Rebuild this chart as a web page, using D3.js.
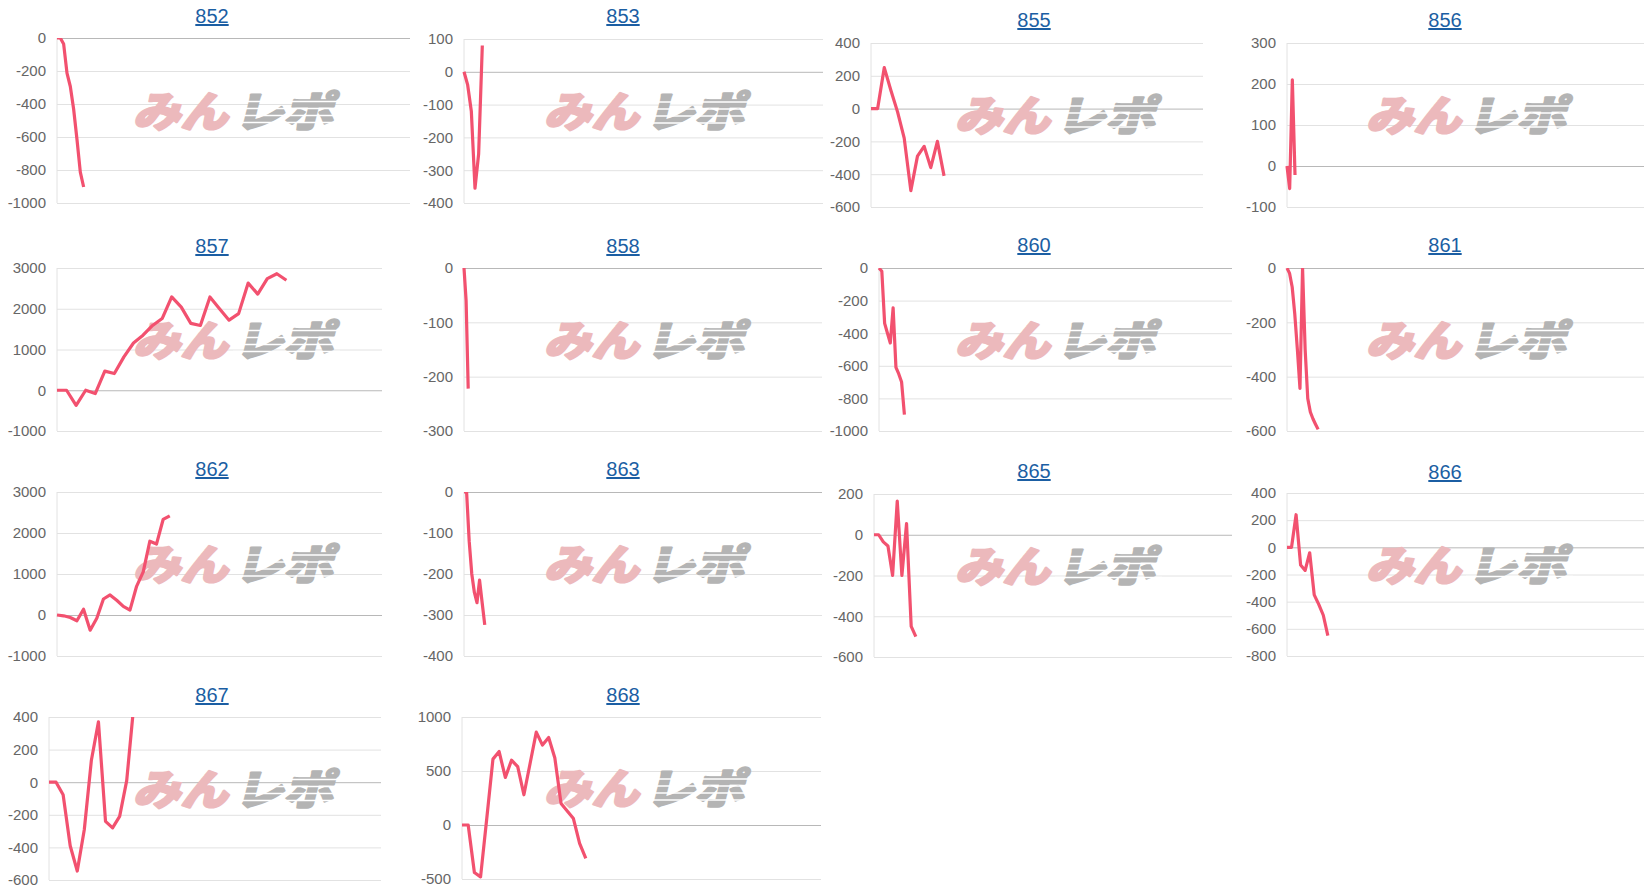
<!DOCTYPE html>
<html>
<head>
<meta charset="utf-8">
<script src="https://cdn.jsdelivr.net/npm/d3@7"></script>
<style>
  body { margin: 0; background: #fff; }
  svg { display: block; }
  .tick text { font-family: "Liberation Sans", Arial, sans-serif; font-size: 15px; fill: #666; }
  .title { font-family: "Liberation Sans", Arial, sans-serif; font-size: 20px; fill: #1b5ea3; text-decoration: underline; }
</style>
</head>
<body>
<svg id="chart" width="1644" height="896"></svg>
<script>
// chart titles (machine numbers)
const titles = ["852", "853", "855", "856", "857", "858", "860", "861", "862", "863", "865", "866", "867", "868"];

// series values
const s852 = [0, 0, -37, -213, -294, -432, -615, -813, -903];
const s853 = [0, -40, -120, -355, -250, 80];
const s855 = [0, 0, 250, 110, -20, -180, -500, -290, -230, -360, -200, -410];
const s856 = [0, -55, 210, -22];
const s857 = [0, 0, -370, 0, -80, 470, 410, 820, 1160, 1350, 1590, 1760, 2290, 2040, 1640, 1590, 2290, 2000, 1720, 1880, 2630, 2360, 2740, 2860, 2700];
const s858 = [0, -60, -222];
const s860 = [0, -20, -340, -400, -460, -245, -610, -650, -700, -900];
const s861 = [0, -20, -70, -170, -300, -443, 0, -300, -480, -530, -555, -575, -594];
const s862 = [0, -20, -60, -140, 140, -370, -80, 390, 490, 360, 210, 120, 700, 1050, 1800, 1730, 2330, 2420];
const s863 = [0, 0, -120, -200, -245, -270, -215, -270, -324];
const s865 = [0, 0, -35, -55, -200, 165, -200, 55, -450, -500];
const s866 = [0, 0, 240, -130, -170, -40, -350, -420, -500, -650];
const s867 = [0, 0, -77, -390, -545, -290, 135, 370, -240, -280, -210, 10, 470];
const s868 = [0, 0, -440, -480, 60, 610, 680, 440, 600, 540, 280, 570, 860, 740, 810, 620, 200, 130, 60, -170, -310];
const series = [s852, s853, s855, s856, s857, s858, s860, s861, s862, s863, s865, s866, s867, s868];

// number of x slots on each chart's category axis
const slots = [106, 98, 50, 136, 34, 170, 125, 140, 49, 138, 77, 80, 47, 58];

// y tick labels
const t852 = [0, -200, -400, -600, -800, -1000];
const t853 = [100, 0, -100, -200, -300, -400];
const t855 = [400, 200, 0, -200, -400, -600];
const t856 = [300, 200, 100, 0, -100];
const t857 = [3000, 2000, 1000, 0, -1000];
const t858 = [0, -100, -200, -300];
const t860 = [0, -200, -400, -600, -800, -1000];
const t861 = [0, -200, -400, -600];
const t862 = [3000, 2000, 1000, 0, -1000];
const t863 = [0, -100, -200, -300, -400];
const t865 = [200, 0, -200, -400, -600];
const t866 = [400, 200, 0, -200, -400, -600, -800];
const t867 = [400, 200, 0, -200, -400, -600];
const t868 = [1000, 500, 0, -500];
const ticks = [t852, t853, t855, t856, t857, t858, t860, t861, t862, t863, t865, t866, t867, t868];

// layout: [column, title baseline, plot top, plot bottom, plot left, plot right]
const layout = [
    [0, 23, 38, 203, 57, 410],
    [1, 23, 39, 203, 464, 823],
    [2, 27, 43, 207, 871, 1203],
    [3, 27, 43, 207, 1287, 1650],
    [0, 253, 268, 431, 57, 382],
    [1, 253, 268, 431, 464, 822],
    [2, 252, 268, 431, 879, 1232],
    [3, 252, 268, 431, 1287, 1650],
    [0, 476, 492, 656, 57, 382],
    [1, 476, 492, 656, 464, 822],
    [2, 478, 494, 657, 874, 1232],
    [3, 479, 493, 656, 1287, 1650],
    [0, 702, 717, 880, 49, 381],
    [1, 702, 717, 879, 462, 821]
];

const colW = 411;
const lineColor = "#f2516f";

const svg = d3.select("#chart");

function drawLogo(g, x, cy) {
    // watermark: heavy pink "みん" + striped grey "レポ"
    const logo = g.append("g").attr("class", "logo");
    const parts = [["みん", 0, 95, "#ecb9bc"], ["レポ", 101, 99, "#b4b4b4"]];
    parts.forEach(([txt, dx, w, c]) => {
        logo.append("text")
            .attr("transform", `translate(${x + dx},${cy + 16}) skewX(-14)`)
            .attr("textLength", w)
            .attr("lengthAdjust", "spacingAndGlyphs")
            .style("font-family", "'Noto Sans CJK JP', sans-serif")
            .style("font-weight", "900")
            .style("font-size", "42px")
            .attr("fill", c)
            .attr("stroke", c)
            .attr("stroke-width", 2.2)
            .attr("stroke-linejoin", "round")
            .text(txt);
    });
    [-9, -2, 5, 12].forEach(dy => {
        logo.append("line")
            .attr("x1", x + 100).attr("x2", x + 207)
            .attr("y1", cy + dy).attr("y2", cy + dy)
            .attr("stroke", "#fff")
            .attr("stroke-width", 1.6);
    });
}

titles.forEach((title, i) => {
    const [col, titleY, top, bottom, left, right] = layout[i];
    const vals = series[i];
    const tv = ticks[i];
    const g = svg.append("g").attr("class", "panel");

    const x = d3.scaleLinear().domain([0, slots[i]]).range([left, right]);
    const y = d3.scaleLinear().domain([d3.min(tv), d3.max(tv)]).range([bottom, top]);

    // title link
    g.append("text")
        .attr("class", "title")
        .attr("x", col * colW + 212)
        .attr("y", titleY)
        .attr("text-anchor", "middle")
        .text(title);

    // grid + y labels
    const axis = d3.axisLeft(y)
        .tickValues(tv)
        .tickSize(-(right - left))
        .tickPadding(11)
        .tickFormat(d => String(d));

    const ax = g.append("g")
        .attr("transform", `translate(${left},0)`)
        .call(axis);
    ax.select(".domain").remove();
    ax.selectAll(".tick line")
        .attr("stroke", d => d === 0 ? "#b8b8b8" : "#e2e2e2")
        .attr("stroke-width", 1);
    ax.selectAll(".tick text").attr("fill", "#666");

    g.append("line")
        .attr("x1", left).attr("x2", left)
        .attr("y1", top).attr("y2", bottom)
        .attr("stroke", "#e2e2e2");

    drawLogo(g, col * colW + 133, (top + bottom) / 2 - 10);

    // clip the line to the plot box
    g.append("clipPath")
        .attr("id", `clip${title}`)
        .append("rect")
        .attr("x", left - 3).attr("y", top)
        .attr("width", right - left + 6)
        .attr("height", bottom - top + 3);

    const line = d3.line()
        .x((d, j) => x(j))
        .y(d => y(d));

    g.append("path")
        .datum(vals)
        .attr("clip-path", `url(#clip${title})`)
        .attr("fill", "none")
        .attr("stroke", lineColor)
        .attr("stroke-width", 3.2)
        .attr("stroke-linejoin", "round")
        .attr("d", line);
});
</script>
</body>
</html>
